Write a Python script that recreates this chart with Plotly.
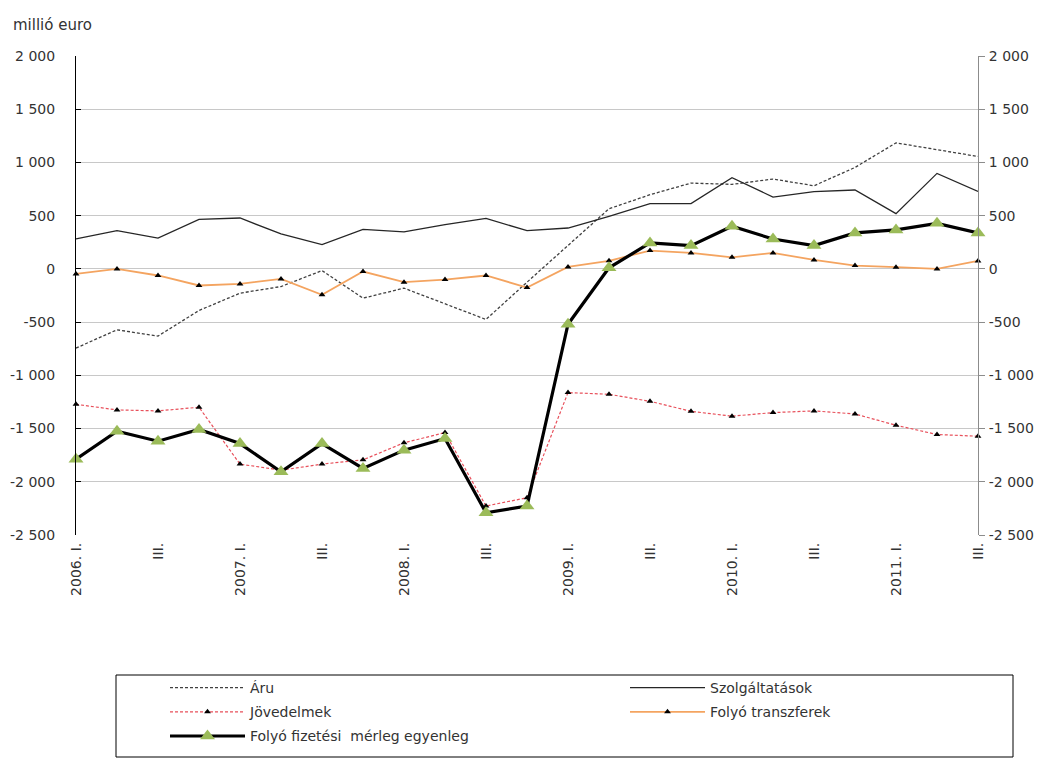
import plotly.graph_objects as go

# ---- data (millió euro), 2006 Q1 .. 2011 Q3 ----
quarter_labels = [
    "2006. I.", "II.", "III.", "IV.",
    "2007. I.", "II.", "III.", "IV.",
    "2008. I.", "II.", "III.", "IV.",
    "2009. I.", "II.", "III.", "IV.",
    "2010. I.", "II.", "III.", "IV.",
    "2011. I.", "II.", "III.",
]
aru = [-744, -572, -631, -391, -228, -166, -16, -275, -181, -328, -475, -125,
       218, 565, 697, 806, 794, 844, 781, 953, 1184, 1122, 1056]
szolgaltatasok = [281, 359, 290, 466, 478, 328, 228, 372, 347, 416, 475, 359,
                  384, 494, 613, 613, 856, 675, 725, 741, 519, 897, 728]
jovedelmek = [-1272, -1325, -1334, -1300, -1834, -1891, -1834, -1794, -1634, -1538, -2228, -2150,
              -1162, -1178, -1244, -1338, -1384, -1350, -1334, -1363, -1469, -1556, -1572]
transzferek = [-47, 0, -62, -156, -141, -94, -244, -25, -125, -100, -62, -175,
               18, 76, 172, 150, 109, 150, 84, 31, 16, 0, 75]
egyenleg = [-1788, -1525, -1619, -1509, -1641, -1906, -1641, -1875, -1703, -1594, -2291, -2228,
            -520, 10, 244, 219, 400, 281, 219, 338, 366, 428, 338]

y_ticks = [-2500, -2000, -1500, -1000, -500, 0, 500, 1000, 1500, 2000]
y_ticktext = ["-2 500", "-2 000", "-1 500", "-1 000", "-500", "0", "500", "1 000", "1 500", "2 000"]

x = list(range(len(quarter_labels)))

FONT = "DejaVu Sans"
TXT = "#333333"

# page geometry (the page body adds an 8px offset)
OFF = 8
W, H = 1046 - OFF, 758 - OFF
PL, PR, PT, PB = 76, 978, 56, 535          # plot area in page pixels
PW, PH = PR - PL, PB - PT


def px(page_x):
    return (page_x - PL) / PW


def py(page_y):
    return (PB - page_y) / PH


fig = go.Figure()
fig.add_trace(go.Scatter(
    x=x, y=aru, name="Áru", mode="lines", legend="legend", legendgroup="a",
    line=dict(color="#404040", width=1.3, dash="3px,2px"), cliponaxis=False))
fig.add_trace(go.Scatter(
    x=x, y=szolgaltatasok, name="Szolgáltatások", mode="lines", legend="legend2", legendgroup="b",
    line=dict(color="#262626", width=1.3), cliponaxis=False))
fig.add_trace(go.Scatter(
    x=x, y=jovedelmek, name="Jövedelmek", mode="lines+markers", legend="legend", legendgroup="c",
    line=dict(color="#e8505b", width=1.2, dash="3px,2px"),
    marker=dict(symbol="triangle-up", size=6, color="#000000"), cliponaxis=False))
fig.add_trace(go.Scatter(
    x=x, y=transzferek, name="Folyó transzferek", mode="lines+markers", legend="legend2", legendgroup="d",
    line=dict(color="#f4a460", width=1.8),
    marker=dict(symbol="triangle-up", size=6, color="#000000"), cliponaxis=False))
fig.add_trace(go.Scatter(
    x=x, y=egyenleg, name="Folyó fizetési  mérleg egyenleg", mode="lines+markers", legend="legend",
    legendgroup="e",
    line=dict(color="#000000", width=3.2),
    marker=dict(symbol="triangle-up", size=13, color="#9bbb59"), cliponaxis=False))

n = len(quarter_labels)
ymin, ymax = y_ticks[0], y_ticks[-1]

fig.update_layout(
    width=W, height=H,
    margin=dict(l=PL - OFF, r=W - (PR - OFF), t=PT - OFF, b=H - (PB - OFF), autoexpand=False),
    paper_bgcolor="white", plot_bgcolor="white",
    font=dict(family=FONT, size=14, color=TXT),
    xaxis=dict(
        range=[0, n - 1], tickmode="array", tickvals=x[::2], ticktext=quarter_labels[::2],
        tickangle=-90, showgrid=False, zeroline=False, showline=False, ticks="",
        tickfont=dict(family=FONT, size=14, color=TXT), ticklabelstandoff=4,
    ),
    xaxis2=dict(
        overlaying="x", matches="x", anchor="free",
        position=(0 - ymin) / (ymax - ymin), side="bottom",
        range=[0, n - 1], tickmode="array", tickvals=x,
        showticklabels=False, ticks="outside", ticklen=5, tickcolor="#000000", tickwidth=1,
        showline=True, linecolor="#000000", linewidth=1, showgrid=False, zeroline=False,
    ),
    yaxis=dict(
        range=[ymin, ymax], tickmode="array", tickvals=y_ticks, ticktext=y_ticktext,
        showgrid=True, gridcolor="#c8c8c8", gridwidth=1, zeroline=False,
        showline=True, linecolor="#000000", linewidth=1,
        ticks="inside", ticklen=5, tickcolor="#000000",
        tickfont=dict(family=FONT, size=14, color=TXT), ticklabelstandoff=17,
    ),
    yaxis2=dict(
        overlaying="y", side="right", matches="y",
        range=[ymin, ymax], tickmode="array", tickvals=y_ticks, ticktext=y_ticktext,
        showgrid=False, zeroline=False,
        showline=True, linecolor="#8c8c8c", linewidth=1,
        ticks="outside", ticklen=6, tickcolor="#8c8c8c",
        tickfont=dict(family=FONT, size=14, color=TXT), ticklabelstandoff=1,
    ),
    legend=dict(
        x=px(165), y=py(672), xanchor="left", yanchor="top", orientation="v",
        bgcolor="rgba(0,0,0,0)", itemwidth=75, font=dict(family=FONT, size=14, color=TXT),
        tracegroupgap=3,
    ),
    legend2=dict(
        x=px(625), y=py(672), xanchor="left", yanchor="top", orientation="v",
        bgcolor="rgba(0,0,0,0)", itemwidth=75, font=dict(family=FONT, size=14, color=TXT),
        tracegroupgap=3,
    ),
    shapes=[dict(type="rect", xref="paper", yref="paper",
                 x0=px(116), x1=px(1013), y0=py(757), y1=py(675),
                 line=dict(color="#000000", width=1), fillcolor="rgba(0,0,0,0)")],
    annotations=[dict(text="millió euro", xref="paper", yref="paper",
                      x=px(11), y=py(25), xanchor="left", yanchor="middle",
                      showarrow=False, font=dict(family=FONT, size=15, color=TXT))],
)

# attach an invisible copy to the right axis so it is rendered
fig.add_trace(go.Scatter(x=x, y=egyenleg, yaxis="y2", mode="lines", showlegend=False,
                         line=dict(width=0), hoverinfo="skip", opacity=0))

fig.write_html("out.html")
